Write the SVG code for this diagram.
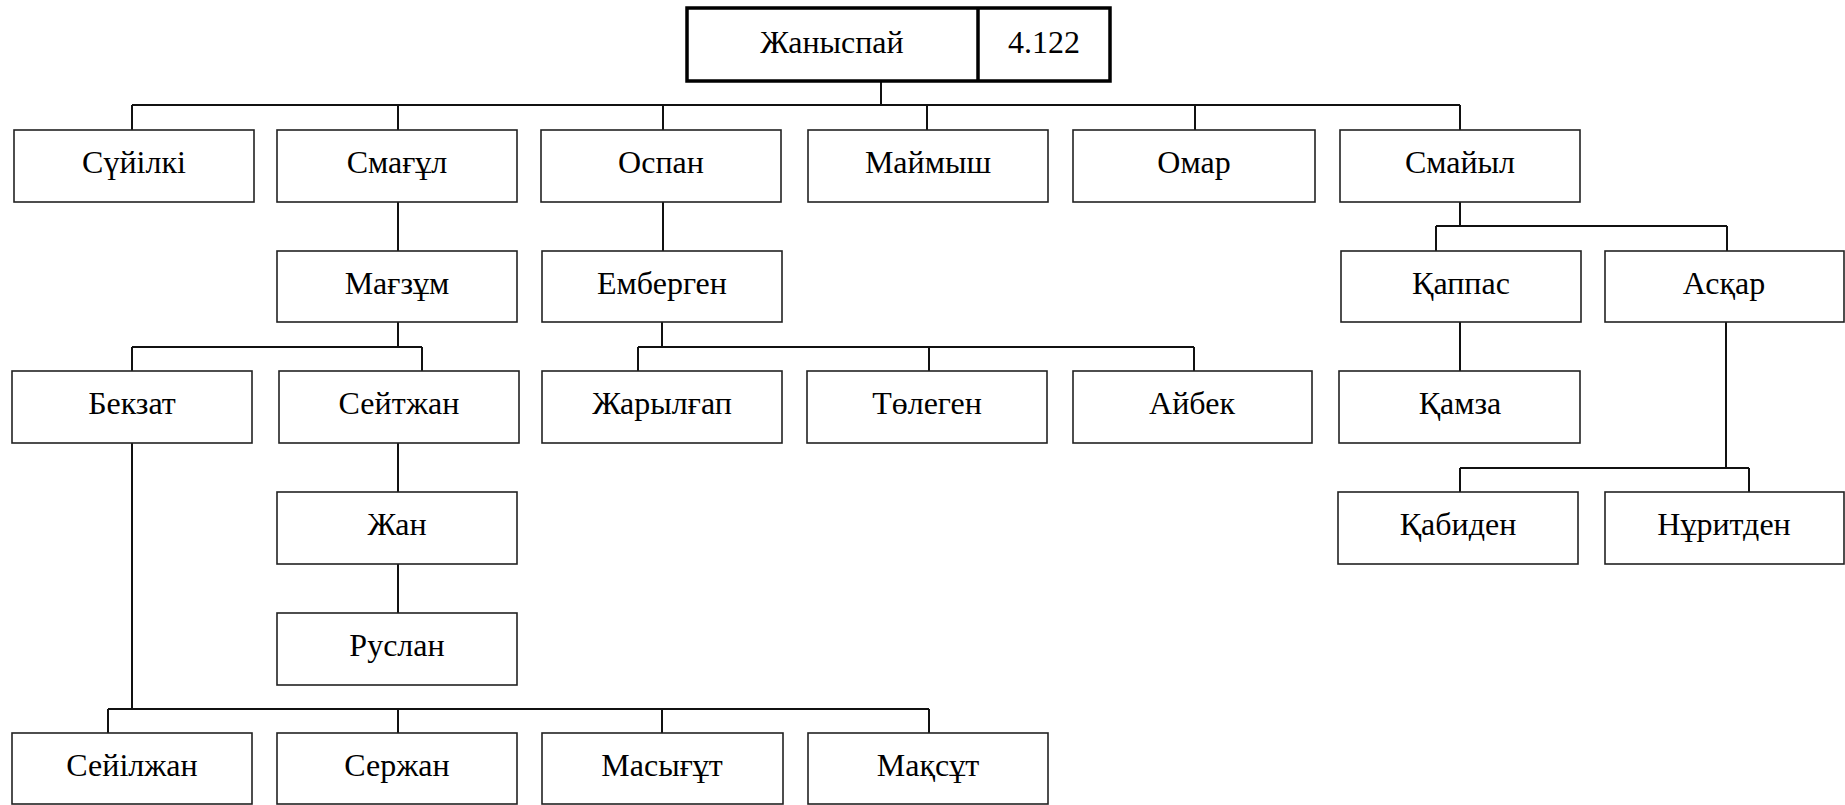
<svg xmlns="http://www.w3.org/2000/svg" width="1845" height="805" viewBox="0 0 1845 805">
<style>
.b{fill:#fff;stroke:#222;stroke-width:1.6}
.t{fill:none;stroke:#000;stroke-width:3.5}
.l{fill:none;stroke:#111;stroke-width:2}
</style>
<rect width="1845" height="805" fill="#fff"/>
<g id="connectors" class="l">
<path d="M881 81V105M132 105H1460M132 105V130M398 105V130M663 105V130M927 105V130M1195 105V130M1460 105V130"/>
<path d="M398 202V251M663 202V251"/>
<path d="M1460 202V226M1436 226H1727M1436 226V251M1727 226V251"/>
<path d="M398 322V347M132 347H422M132 347V371M422 347V371"/>
<path d="M662 322V347M638 347H1194M638 347V371M929 347V371M1194 347V371"/>
<path d="M1460 322V371"/>
<path d="M1726 322V468M1460 468H1749M1460 468V492M1749 468V492"/>
<path d="M398 443V492M398 564V613"/>
<path d="M132 443V709M108 709H929M108 709V733M398 709V733M662 709V733M929 709V733"/>
</g>
<g font-family="Liberation Serif" font-size="32" text-anchor="middle" fill="#000">
<g id="n-zhanyspai"><rect class="t" x="687" y="8" width="423" height="73"/><line class="t" x1="978" y1="8" x2="978" y2="81"/><text x="832" y="53" font-family="Liberation Serif">Жаныспай</text><text x="1044" y="53" font-family="Liberation Serif">4.122</text></g>
<g id="n-suyilki"><rect class="b" x="14" y="130" width="240" height="72"/><text x="134" y="173" font-family="Liberation Serif">Сүйілкі</text></g>
<g id="n-smagul"><rect class="b" x="277" y="130" width="240" height="72"/><text x="397" y="173" font-family="Liberation Serif">Смағұл</text></g>
<g id="n-ospan"><rect class="b" x="541" y="130" width="240" height="72"/><text x="661" y="173" font-family="Liberation Serif">Оспан</text></g>
<g id="n-maimysh"><rect class="b" x="808" y="130" width="240" height="72"/><text x="928" y="173" font-family="Liberation Serif">Маймыш</text></g>
<g id="n-omar"><rect class="b" x="1073" y="130" width="242" height="72"/><text x="1194" y="173" font-family="Liberation Serif">Омар</text></g>
<g id="n-smaiyl"><rect class="b" x="1340" y="130" width="240" height="72"/><text x="1460" y="173" font-family="Liberation Serif">Смайыл</text></g>
<g id="n-magzum"><rect class="b" x="277" y="251" width="240" height="71"/><text x="397" y="294" font-family="Liberation Serif">Мағзұм</text></g>
<g id="n-embergen"><rect class="b" x="542" y="251" width="240" height="71"/><text x="662" y="294" font-family="Liberation Serif">Емберген</text></g>
<g id="n-kappas"><rect class="b" x="1341" y="251" width="240" height="71"/><text x="1461" y="294" font-family="Liberation Serif">Қаппас</text></g>
<g id="n-askar"><rect class="b" x="1605" y="251" width="239" height="71"/><text x="1724" y="294" font-family="Liberation Serif">Асқар</text></g>
<g id="n-bekzat"><rect class="b" x="12" y="371" width="240" height="72"/><text x="132" y="414" font-family="Liberation Serif">Бекзат</text></g>
<g id="n-seitzhan"><rect class="b" x="279" y="371" width="240" height="72"/><text x="399" y="414" font-family="Liberation Serif">Сейтжан</text></g>
<g id="n-zharylgap"><rect class="b" x="542" y="371" width="240" height="72"/><text x="662" y="414" font-family="Liberation Serif">Жарылғап</text></g>
<g id="n-tolegen"><rect class="b" x="807" y="371" width="240" height="72"/><text x="927" y="414" font-family="Liberation Serif">Төлеген</text></g>
<g id="n-aibek"><rect class="b" x="1073" y="371" width="239" height="72"/><text x="1192" y="414" font-family="Liberation Serif">Айбек</text></g>
<g id="n-kamza"><rect class="b" x="1339" y="371" width="241" height="72"/><text x="1460" y="414" font-family="Liberation Serif">Қамза</text></g>
<g id="n-zhan"><rect class="b" x="277" y="492" width="240" height="72"/><text x="397" y="535" font-family="Liberation Serif">Жан</text></g>
<g id="n-kabiden"><rect class="b" x="1338" y="492" width="240" height="72"/><text x="1458" y="535" font-family="Liberation Serif">Қабиден</text></g>
<g id="n-nuritden"><rect class="b" x="1605" y="492" width="239" height="72"/><text x="1724" y="535" font-family="Liberation Serif">Нұритден</text></g>
<g id="n-ruslan"><rect class="b" x="277" y="613" width="240" height="72"/><text x="397" y="656" font-family="Liberation Serif">Руслан</text></g>
<g id="n-seilzhan"><rect class="b" x="12" y="733" width="240" height="71"/><text x="132" y="776" font-family="Liberation Serif">Сейілжан</text></g>
<g id="n-serzhan"><rect class="b" x="277" y="733" width="240" height="71"/><text x="397" y="776" font-family="Liberation Serif">Сержан</text></g>
<g id="n-masygut"><rect class="b" x="542" y="733" width="241" height="71"/><text x="662" y="776" font-family="Liberation Serif">Масығұт</text></g>
<g id="n-maksut"><rect class="b" x="808" y="733" width="240" height="71"/><text x="928" y="776" font-family="Liberation Serif">Мақсұт</text></g>
</g>
</svg>
